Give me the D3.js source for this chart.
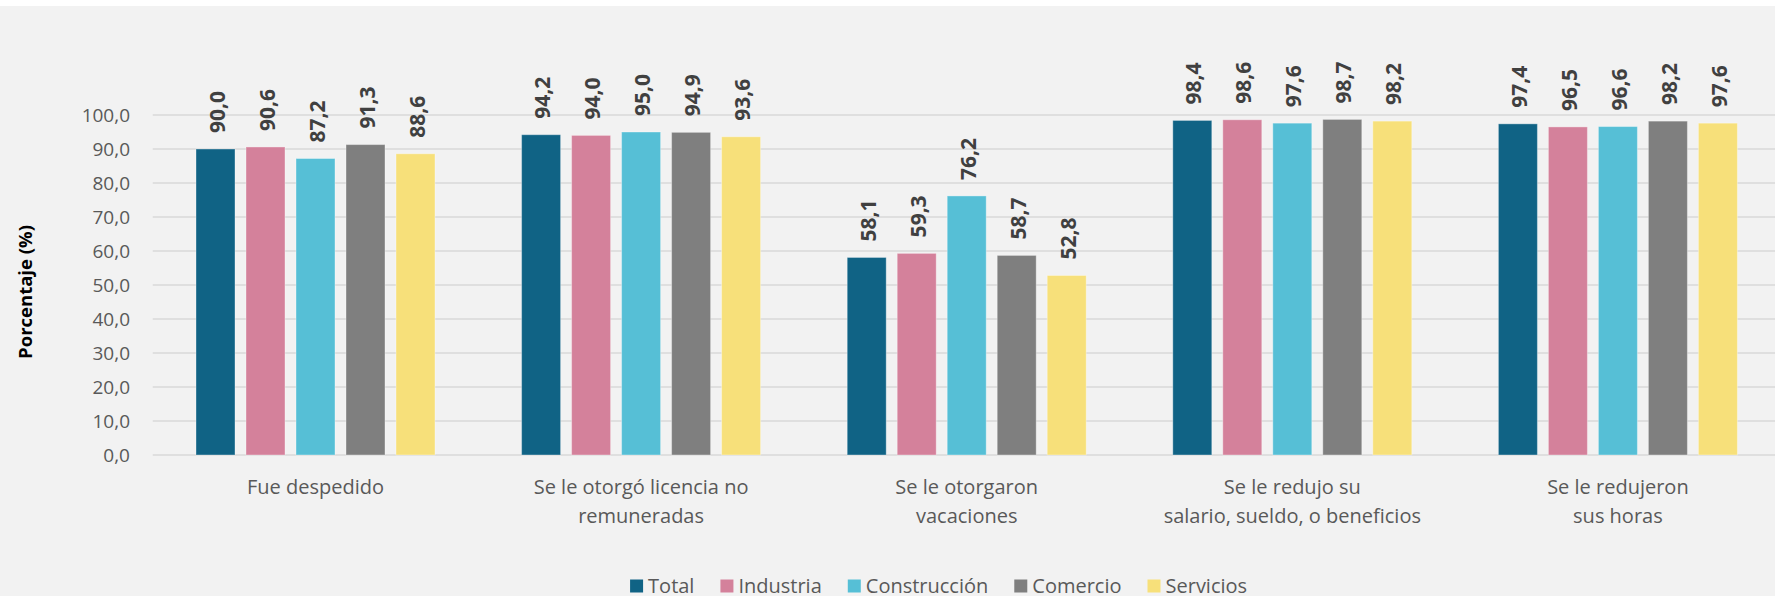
<!DOCTYPE html>
<html>
<head>
<meta charset="utf-8">
<script src="https://cdn.jsdelivr.net/npm/d3@7"></script>
<style>
  html, body { margin: 0; padding: 0; background: #ffffff; }
  svg { display: block; font-family: "Open Sans", "Noto Sans", sans-serif; }
</style>
</head>
<body>
<svg id="chart" width="1775" height="596"></svg>
<script>
const categories = [
  ["Fue despedido"],
  ["Se le otorgó licencia no", "remuneradas"],
  ["Se le otorgaron", "vacaciones"],
  ["Se le redujo su", "salario, sueldo, o beneficios"],
  ["Se le redujeron", "sus horas"]
];
const seriesNames = ["Total", "Industria", "Construcción", "Comercio", "Servicios"];
const seriesColors = ["#106385", "#d4819b", "#56bfd6", "#7f7f7f", "#f7e07a"];
const total        = [90.0, 94.2, 58.1, 98.4, 97.4];
const industria    = [90.6, 94.0, 59.3, 98.6, 96.5];
const construccion = [87.2, 95.0, 76.2, 97.6, 96.6];
const comercio     = [91.3, 94.9, 58.7, 98.7, 98.2];
const servicios    = [88.6, 93.6, 52.8, 98.2, 97.6];
const yTicks = [0, 10, 20, 30, 40, 50, 60, 70, 80, 90, 100];
const yAxisTitle = "Porcentaje (%)";

const seriesValues = [total, industria, construccion, comercio, servicios];
const fmt = v => v.toFixed(1).replace(".", ",");

const W = 1775, H = 596;
const svg = d3.select("#chart");
svg.append("rect").attr("x", 0).attr("y", 0).attr("width", W).attr("height", H).attr("fill", "#ffffff");
svg.append("rect").attr("x", 0).attr("y", 6).attr("width", W).attr("height", H - 6).attr("fill", "#f2f2f2");

const plotLeft = 152.7, plotRight = 1780.7, plotTop = 115, plotBottom = 455;
const x0 = d3.scaleBand().domain(d3.range(categories.length)).range([plotLeft, plotRight]).padding(0);
const x1 = d3.scaleBand().domain(d3.range(seriesNames.length)).range([0, x0.bandwidth()])
  .paddingInner(0.22).paddingOuter(0.866);
const y = d3.scaleLinear().domain([0, 100]).range([plotBottom, plotTop]);

// gridlines
svg.append("g").selectAll("line").data(yTicks).join("line")
  .attr("x1", plotLeft).attr("x2", W)
  .attr("y1", d => y(d)).attr("y2", d => y(d))
  .attr("stroke", "#d9d9d9").attr("stroke-width", 1.5);

// y axis labels via d3 axis
const yAxis = d3.axisLeft(y).tickValues(yTicks).tickFormat(fmt).tickSize(0).tickPadding(0);
const gy = svg.append("g").attr("transform", `translate(130,0)`).call(yAxis);
gy.select(".domain").remove();
gy.selectAll("text").attr("font-size", 19).attr("fill", "#595959")
  .attr("font-family", "'Open Sans', sans-serif").attr("dy", "0.35em");

// bars
const groups = svg.append("g").selectAll("g").data(categories).join("g")
  .attr("transform", (d, i) => `translate(${x0(i)},0)`);
groups.each(function(cat, ci) {
  const g = d3.select(this);
  const vals = seriesValues.map(s => s[ci]);
  g.selectAll("rect").data(vals).join("rect")
    .attr("x", (d, si) => x1(si))
    .attr("width", x1.bandwidth())
    .attr("y", d => y(d))
    .attr("height", d => y(0) - y(d))
    .attr("fill", (d, si) => seriesColors[si])
    .attr("stroke", "#ffffff").attr("stroke-opacity", 0.35).attr("stroke-width", 1);
  g.selectAll("text.lbl").data(vals).join("text").attr("class", "lbl")
    .attr("transform", (d, si) => `translate(${x1(si) + x1.bandwidth() / 2 + 1},${y(d) - 16}) rotate(-90)`)
    .attr("text-anchor", "start")
    .attr("dominant-baseline", "central")
    .attr("font-size", 21).attr("font-weight", "bold").attr("fill", "#404040")
    .text(d => fmt(d));
});

// category labels
const catG = svg.append("g");
categories.forEach((lines, ci) => {
  const t = catG.append("text")
    .attr("x", x0(ci) + x0.bandwidth() / 2)
    .attr("y", 494)
    .attr("text-anchor", "middle")
    .attr("font-size", 20).attr("fill", "#595959");
  lines.forEach((ln, li) => {
    t.append("tspan").attr("x", x0(ci) + x0.bandwidth() / 2).attr("dy", li === 0 ? 0 : 28.5).text(ln);
  });
});

// y axis title
svg.append("text")
  .attr("transform", `translate(24,292) rotate(-90)`)
  .attr("text-anchor", "middle").attr("dominant-baseline", "central")
  .attr("font-size", 18.5).attr("font-weight", "bold").attr("fill", "#000000")
  .text(yAxisTitle);

// legend
const leg = svg.append("g");
let lx = 0;
const items = [];
seriesNames.forEach((name, i) => {
  const it = leg.append("g");
  it.append("rect").attr("x", lx).attr("y", 579.5).attr("width", 13).attr("height", 13).attr("fill", seriesColors[i]);
  const tx = it.append("text").attr("x", lx + 18).attr("y", 593).attr("font-size", 20).attr("fill", "#595959").text(name);
  const w = tx.node().getComputedTextLength();
  lx += 18 + w + 26;
});
const legW = lx - 26;
leg.attr("transform", `translate(${938.6 - legW / 2},0)`);
</script>
</body>
</html>
